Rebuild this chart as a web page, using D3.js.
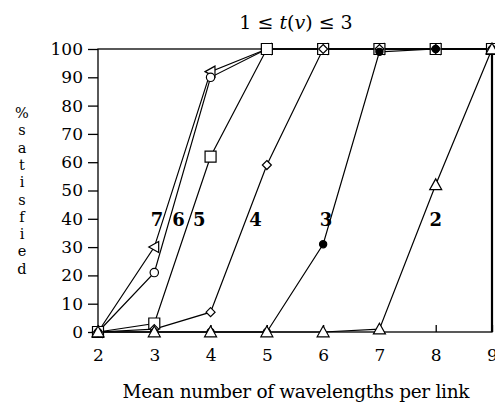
<!DOCTYPE html>
<html>
<head>
<meta charset="utf-8">
<script src="https://cdn.jsdelivr.net/npm/d3@7"></script>
<style>
  body { margin: 0; background: #fff; }
  text { font-family: "DejaVu Serif", serif; fill: #000; }
</style>
</head>
<body>
<div id="chart"></div>
<script>
// wavelengths per link
const xs = [2, 3, 4, 5, 6, 7, 8, 9];

// % satisfied, one list per curve
const s2 = [0, 0, 0, 0, 0, 1, 52, 100];
const s3 = [0, 0, 0, 0, 31, 99, 100, 100];
const s4 = [0, 1, 7, 59, 100, 100, 100, 100];
const s5 = [0, 3, 62, 100, 100, 100, 100, 100];
const s6 = [0, 21, 90, 100, 100, 100, 100, 100];
const s7 = [0, 30, 92, 100, 100, 100, 100, 100];

const curveNames = ["2", "3", "4", "5", "6", "7"];
const curveLabelX = [8.0, 6.05, 4.8, 3.8, 3.43, 3.05];
const labelLevel = 40;

const yTicks = [0, 10, 20, 30, 40, 50, 60, 70, 80, 90, 100];

const width = 495, height = 406;

const x = d3.scaleLinear().domain([2, 9]).range([98, 492]);
const y = d3.scaleLinear().domain([0, 100]).range([332, 49]);

const svg = d3.select("#chart").append("svg")
    .attr("width", width)
    .attr("height", height);

// frame
svg.append("rect")
    .attr("x", x(2)).attr("y", y(100))
    .attr("width", x(9) - x(2)).attr("height", y(0) - y(100))
    .attr("fill", "none").attr("stroke", "#000").attr("stroke-width", 1.3);
svg.append("line")
    .attr("x1", x(9)).attr("x2", x(9)).attr("y1", y(100)).attr("y2", y(0))
    .attr("stroke", "#000").attr("stroke-width", 2.2);

// y axis
const yAxis = svg.append("g")
    .attr("transform", `translate(${x(2)},0)`)
    .call(d3.axisLeft(y).tickValues(yTicks).tickSize(10).tickPadding(5));
yAxis.select(".domain").remove();
yAxis.selectAll("line").attr("stroke-width", 1.3);
yAxis.selectAll("text").style("font-size", "17px").style("font-family", "DejaVu Serif");

// x axis, ticks pointing up
const xAxis = svg.append("g")
    .attr("transform", `translate(0,${y(0)})`)
    .call(d3.axisBottom(x).tickValues(xs).tickFormat(d3.format("d")).tickSize(-7).tickPadding(17));
xAxis.select(".domain").remove();
xAxis.selectAll("line").attr("stroke-width", 1.3);
xAxis.selectAll("text").style("font-size", "17px").style("font-family", "DejaVu Serif");

// markers
function marker(kind, sz) {
  const r = sz;
  switch (kind) {
    case "triUp": return `M0,${-r}L${r * 1.0},${r * 0.8}L${-r * 1.0},${r * 0.8}Z`;
    case "triLeft": return `M${-r},0L${r * 0.8},${-r}L${r * 0.8},${r}Z`;
    case "diamond": return `M0,${-r}L${r},0L0,${r}L${-r},0Z`;
    case "square": return `M${-r},${-r}H${r}V${r}H${-r}Z`;
  }
}

const series = [
  { vals: s7, kind: "triLeft", size: 5.5, fill: "#fff" },
  { vals: s6, kind: "circle", size: 4.2, fill: "#fff" },
  { vals: s5, kind: "square", size: 5.5, fill: "#fff" },
  { vals: s4, kind: "diamond", size: 4.5, fill: "#fff" },
  { vals: s3, kind: "circle", size: 3.6, fill: "#000" },
  { vals: s2, kind: "triUp", size: 6, fill: "#fff" }
];

const line = d3.line()
    .x((d, i) => x(xs[i]))
    .y(d => y(d));

series.forEach(s => {
  svg.append("path")
      .attr("d", line(s.vals))
      .attr("fill", "none")
      .attr("stroke", "#000")
      .attr("stroke-width", 1.2);
});

series.forEach(s => {
  const g = svg.append("g");
  s.vals.forEach((v, i) => {
    if (s.kind === "circle") {
      g.append("circle")
          .attr("cx", x(xs[i])).attr("cy", y(v)).attr("r", s.size)
          .attr("fill", s.fill).attr("stroke", "#000").attr("stroke-width", 1.2);
    } else {
      g.append("path")
          .attr("d", marker(s.kind, s.size))
          .attr("transform", `translate(${x(xs[i])},${y(v)})`)
          .attr("fill", s.fill).attr("stroke", "#000").attr("stroke-width", 1.2);
    }
  });
});

// curve labels
svg.append("g").selectAll("text")
  .data(curveNames)
  .join("text")
    .attr("x", (d, i) => x(curveLabelX[i]))
    .attr("y", y(labelLevel) + 7)
    .attr("text-anchor", "middle")
    .style("font-size", "18px")
    .style("font-weight", "bold")
    .text(d => d);

// title
const title = svg.append("text")
    .attr("x", 296).attr("y", 29)
    .attr("text-anchor", "middle")
    .style("font-size", "19px");
title.append("tspan").text("1 ≤ ");
title.append("tspan").style("font-style", "italic").text("t");
title.append("tspan").text("(");
title.append("tspan").style("font-style", "italic").text("v");
title.append("tspan").text(") ≤ 3");

// x label
svg.append("text")
    .attr("x", 296).attr("y", 398)
    .attr("text-anchor", "middle")
    .attr("textLength", 347)
    .style("font-size", "18.5px")
    .text("Mean number of wavelengths per link");

// y label, stacked letters
const yLabel = "%satisfied".split("");
svg.append("g").selectAll("text")
  .data(yLabel)
  .join("text")
    .attr("x", 22)
    .attr("y", (d, i) => 118 + i * 17.3)
    .attr("text-anchor", "middle")
    .style("font-size", "14.5px")
    .text(d => d);
</script>
</body>
</html>
